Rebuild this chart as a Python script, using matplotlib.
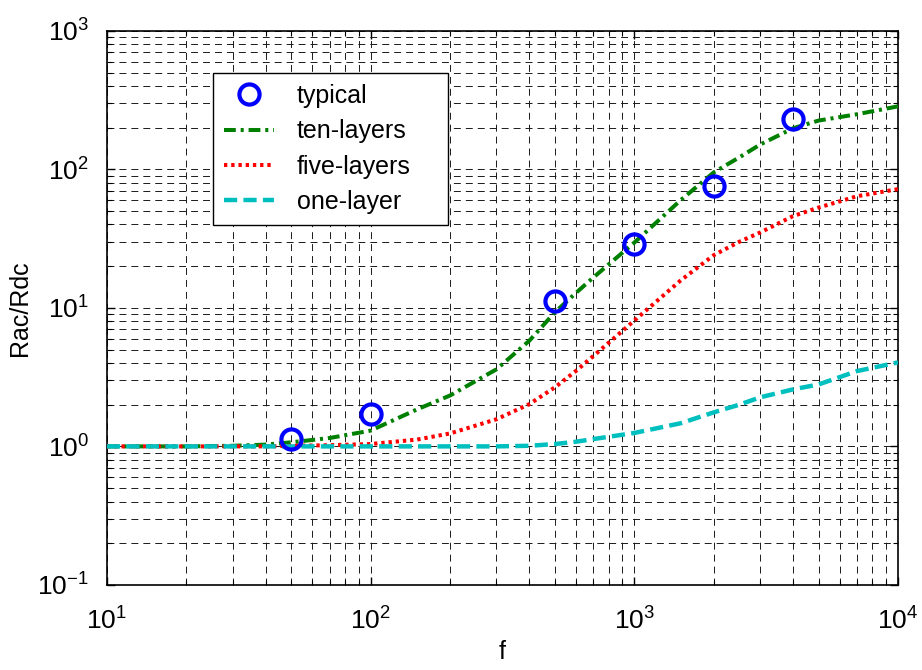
import numpy as np
import matplotlib
matplotlib.use("Agg")
import matplotlib.pyplot as plt
from matplotlib.ticker import LogLocator, NullFormatter

plt.rcParams["font.family"] = ["Liberation Sans", "DejaVu Sans"]
plt.rcParams["mathtext.fontset"] = "custom"
plt.rcParams["mathtext.rm"] = "Liberation Sans"
plt.rcParams["mathtext.it"] = "Liberation Sans:italic"
plt.rcParams["lines.scale_dashes"] = False

# measured points (typical winding)
f_typical = [50, 100, 500, 1000, 2000, 4000]
r_typical = [1.14, 1.70, 11.3, 28.7, 76, 230]

# model curves
f_curve = [10, 20, 30, 40, 50, 70, 100, 150, 200, 300, 400, 500, 600, 700,
           1000, 1500, 2000, 2500, 3000, 4000, 5000, 7000, 10000]
r_ten = [1.0, 1.0, 1.01, 1.03, 1.07, 1.15, 1.3, 1.85, 2.33, 3.6, 5.8, 9.3, 12.8, 16.6,
         29.6, 60, 95, 122, 151, 198, 225, 250, 285]
r_five = [1.0, 1.0, 1.0, 1.0, 1.01, 1.02, 1.04, 1.12, 1.24, 1.57, 2.02, 2.67, 3.5, 4.5,
          8.1, 15.8, 24, 30, 35, 46, 53, 64, 72]
r_one = [1.0, 1.0, 1.0, 1.0, 1.0, 1.0, 1.0, 1.0, 1.0, 1.0, 1.01, 1.04, 1.08, 1.13,
         1.25, 1.47, 1.76, 2.0, 2.26, 2.58, 2.8, 3.5, 4.04]

fig = plt.figure(figsize=(9.22, 6.70), dpi=100)
ax = fig.add_axes([0.116, 0.127, 0.858, 0.827])

ax.plot(f_typical, r_typical, linestyle="none", marker="o", markersize=14.5,
        markerfacecolor="none", markeredgecolor="#0000ff", markeredgewidth=3.0,
        label="typical", zorder=5)
ax.plot(f_curve, r_ten, color="#008000", linewidth=2.9,
        linestyle=(0, (8.5, 3.5, 2.2, 3.5)), label="ten-layers", zorder=4)
ax.plot(f_curve, r_five, color="#ff0000", linewidth=2.9,
        linestyle=(0, (2.4, 2.8)), label="five-layers", zorder=4)
ax.plot(f_curve, r_one, color="#00bfbf", linewidth=3.2,
        linestyle=(0, (9.5, 4.5)), label="one-layer", zorder=4)

ax.set_xscale("log")
ax.set_yscale("log")
ax.set_xlim(10, 1e4)
ax.set_ylim(0.1, 1e3)

ax.xaxis.set_major_locator(LogLocator(base=10, numticks=10))
ax.yaxis.set_major_locator(LogLocator(base=10, numticks=10))
ax.xaxis.set_minor_locator(LogLocator(base=10, subs=np.arange(2, 10), numticks=20))
ax.yaxis.set_minor_locator(LogLocator(base=10, subs=np.arange(2, 10), numticks=20))
ax.xaxis.set_minor_formatter(NullFormatter())
ax.yaxis.set_minor_formatter(NullFormatter())

grid_style = dict(color="0.1", linewidth=0.7, linestyle=(0, (5.0, 3.6)))
ax.grid(True, which="major", **grid_style)
ax.grid(True, which="minor", **grid_style)
ax.set_axisbelow(True)

ax.tick_params(which="both", direction="in", top=True, right=True)
ax.tick_params(which="major", length=6, width=1.0, labelsize=19)
ax.tick_params(which="minor", length=3.5, width=0.8)
ax.tick_params(axis="x", which="major", pad=16)
ax.tick_params(axis="y", which="major", pad=13)
for spine in ax.spines.values():
    spine.set_linewidth(1.2)
    spine.set_color("black")

ax.set_xlabel("f", fontsize=18, labelpad=4)
ax.set_ylabel("Rac/Rdc", fontsize=18, labelpad=4)

leg = ax.legend(loc="upper left", bbox_to_anchor=(0.134, 0.65, 0.297, 0.274),
                mode="expand", borderaxespad=0,
                fontsize=18, frameon=True, fancybox=False, handlelength=2.0,
                handletextpad=0.9, labelspacing=0.45, borderpad=0.45)
leg.get_frame().set_edgecolor("black")
leg.get_frame().set_linewidth(1.0)
leg.get_frame().set_alpha(1)

fig.savefig("out.png", dpi=100)
